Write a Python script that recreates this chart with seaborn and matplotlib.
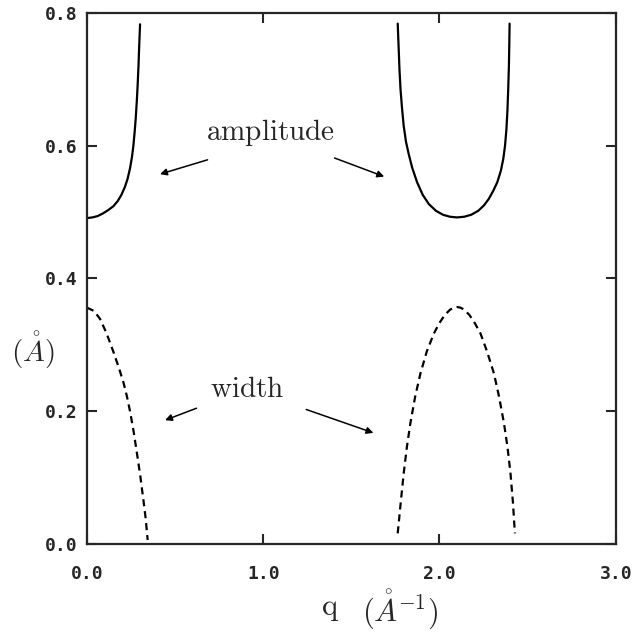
import matplotlib
matplotlib.use("Agg")
import matplotlib.pyplot as plt
import seaborn as sns
import pandas as pd

# Amplitude branches (solid)
amp_left_q = [0.0, 0.03, 0.06, 0.09, 0.12, 0.15, 0.175, 0.195, 0.215, 0.23, 0.244, 0.255,
              0.263, 0.270, 0.276, 0.282, 0.287, 0.292, 0.296, 0.301]
amp_left_v = [0.491, 0.492, 0.494, 0.498, 0.503, 0.509, 0.517, 0.526, 0.538, 0.550, 0.566, 0.583,
              0.600, 0.620, 0.640, 0.665, 0.690, 0.720, 0.750, 0.783]

amp_right_q = [1.763, 1.768, 1.773, 1.779, 1.787, 1.797, 1.810, 1.825, 1.845, 1.873, 1.905, 1.940,
               1.98, 2.02, 2.06, 2.10, 2.14, 2.18, 2.22, 2.252, 2.28, 2.305, 2.328, 2.348,
               2.362, 2.372, 2.380, 2.386, 2.390, 2.394, 2.396, 2.398]
amp_right_v = [0.784, 0.750, 0.715, 0.685, 0.658, 0.630, 0.606, 0.588, 0.567, 0.545, 0.526, 0.512,
               0.502, 0.496, 0.493, 0.492, 0.493, 0.496, 0.502, 0.510, 0.520, 0.532, 0.545, 0.562,
               0.580, 0.600, 0.625, 0.655, 0.685, 0.720, 0.750, 0.784]

# Width branches (dashed)
wid_left_q = [0.0, 0.04, 0.074, 0.11, 0.149, 0.18, 0.206, 0.225, 0.244, 0.264, 0.282, 0.302,
              0.320, 0.333, 0.344]
wid_left_v = [0.356, 0.351, 0.339, 0.318, 0.290, 0.266, 0.244, 0.224, 0.200, 0.170, 0.139, 0.103,
              0.066, 0.038, 0.006]

wid_right_q = [1.763, 1.780, 1.797, 1.815, 1.835, 1.862, 1.892, 1.928, 1.968, 2.00, 2.03, 2.06,
               2.08, 2.10, 2.12, 2.14, 2.17, 2.20, 2.233, 2.27, 2.309, 2.338, 2.366, 2.386,
               2.403, 2.417, 2.428]
wid_right_v = [0.016, 0.062, 0.1065, 0.146, 0.182, 0.222, 0.257, 0.290, 0.317, 0.333, 0.345, 0.353,
               0.356, 0.357, 0.356, 0.353, 0.345, 0.333, 0.317, 0.290, 0.257, 0.222, 0.182, 0.146,
               0.1065, 0.062, 0.016]

x_ticks = [0.0, 1.0, 2.0, 3.0]
x_tick_labels = ["0.0", "1.0", "2.0", "3.0"]
y_ticks = [0.0, 0.2, 0.4, 0.6, 0.8]
y_tick_labels = ["0.0", "0.2", "0.4", "0.6", "0.8"]

sns.set_style("ticks")
plt.rcParams["mathtext.fontset"] = "cm"

fig = plt.figure(figsize=(6.32, 6.34), dpi=100)
ax = fig.add_axes([0.1377, 0.142, 0.8365, 0.8375])

def branch(q, v, dashed):
    df = pd.DataFrame({"q": q, "v": v})
    sns.lineplot(data=df, x="q", y="v", color="black", linewidth=1.6,
                 estimator=None, sort=False, ax=ax)
    if dashed:
        ax.lines[-1].set_dashes([3.2, 2.2])

branch(amp_left_q, amp_left_v, False)
branch(amp_right_q, amp_right_v, False)
branch(wid_left_q, wid_left_v, True)
branch(wid_right_q, wid_right_v, True)

ax.set_xlim(0, 3.0)
ax.set_ylim(0, 0.8)
ax.set_xticks(x_ticks)
ax.set_yticks(y_ticks)
tick_font = dict(family="DejaVu Sans Mono", weight="bold", size=13)
ax.set_xticklabels(x_tick_labels, fontdict=tick_font)
ax.set_yticklabels(y_tick_labels, fontdict=tick_font)
ax.tick_params(direction="in", length=7, width=1.5, top=True, right=True,
               labeltop=False, labelright=False)
ax.tick_params(axis="x", pad=15)
ax.tick_params(axis="y", pad=7)
for s in ax.spines.values():
    s.set_linewidth(1.6)
    s.set_visible(True)

ax.set_xlabel("")
ax.set_ylabel("")
fig.text(330 / 632, 0.040, r"$\mathrm{q}$", fontsize=22, ha="center", va="center")
fig.text(362 / 632, 0.040, r"$(\mathring{A}^{-1})$", fontsize=22, ha="left", va="center")
fig.text(0.052, 0.448, r"$(\mathring{A})$", fontsize=21, ha="center", va="center")

# Annotation labels with arrows
arrow = dict(arrowstyle="-|>", color="black", lw=1.1, mutation_scale=10)
ax.text(1.040, 0.609, r"$\mathrm{amplitude}$", fontsize=21, ha="center", va="baseline")
ax.annotate("", xy=(0.399, 0.556), xytext=(0.699, 0.580), arrowprops=arrow)
ax.annotate("", xy=(1.701, 0.552), xytext=(1.390, 0.583), arrowprops=arrow)
ax.text(0.909, 0.2215, r"$\mathrm{width}$", fontsize=21, ha="center", va="baseline")
ax.annotate("", xy=(0.428, 0.185), xytext=(0.636, 0.206), arrowprops=arrow)
ax.annotate("", xy=(1.640, 0.166), xytext=(1.229, 0.204), arrowprops=arrow)

fig.savefig("out.png", dpi=100)
